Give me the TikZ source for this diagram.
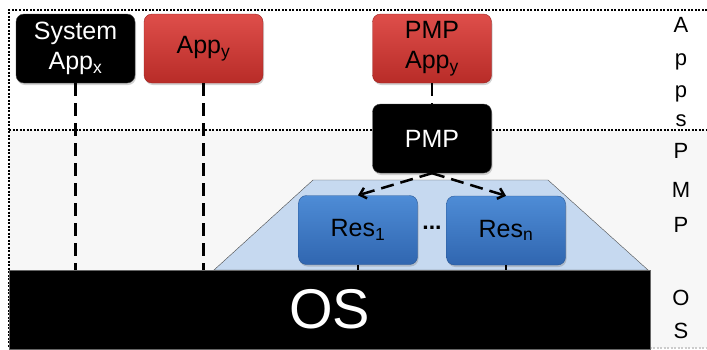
\documentclass[tikz,border=0pt]{standalone}
\usepackage{fontspec}
\setmainfont{Liberation Sans}
\usetikzlibrary{arrows.meta,shadows}

\definecolor{apptop}{RGB}{222,78,74}
\definecolor{appbot}{RGB}{184,44,40}
\definecolor{restop}{RGB}{78,140,214}
\definecolor{resbot}{RGB}{48,102,176}
\definecolor{resbg}{RGB}{198,217,240}
\definecolor{bggray}{RGB}{247,247,247}

\newcommand*{\xleft}{9}
\newcommand*{\xright}{707}
\newcommand*{\ytop}{10}
\newcommand*{\ysep}{130}
\newcommand*{\ybot}{348}

\begin{document}
\begin{tikzpicture}
[
	x=1pt, y=-1pt,
	box/.style={rounded corners=8pt,minimum width=119pt,minimum height=69pt,inner sep=0pt,align=center,
		font=\fontsize{25}{30}\selectfont,drop shadow={opacity=0.35,shadow xshift=1pt,shadow yshift=-2pt}},
	blackbox/.style={box,fill=black,draw=black!75},
	redbox/.style={box,top color=apptop,bottom color=appbot,draw=appbot!85!black},
	resbox/.style={box,top color=restop,bottom color=resbot,draw=resbot!85!black},
	frame/.style={line width=2pt,dash pattern=on 2pt off 1.5pt},
	link/.style={line width=2.5pt,dash pattern=on 13pt off 7pt},
	sidelbl/.style={anchor=base,inner sep=0pt,font=\fontsize{22}{22}\selectfont}
]

	\useasboundingbox (0,0) rectangle (707,349);

	% layers
	\fill[bggray] (\xleft,\ysep) rectangle (\xright,\ybot);
	\draw[frame] (\xright,\ytop) -- (\xleft,\ytop) -- (\xleft,\ybot);
	\draw[frame] (\xleft,\ysep) -- (\xright,\ysep);
	\draw[frame,black!20] (\xleft,\ybot) -- (\xright,\ybot);

	% pmp area
	\draw[black!70,fill=resbg] (214,270) -- (313,180) -- (548,180) -- (648,270) -- cycle;

	% boxes
	\node[blackbox,text=white] (sysapp) at (75.5,48.5) {System\\App\textsubscript{x}};
	\node[redbox] (appy) at (203.5,48.5) {App\textsubscript{y}};
	\node[redbox] (pmpapp) at (432,48.5) {PMP\\App\textsubscript{y}};
	\node[blackbox,text=white] (pmp) at (432,138.5) {PMP};
	\node[resbox] (res1) at (358,230) {Res\textsubscript{1}};
	\node[resbox] (resn) at (506,230.5) {Res\textsubscript{n}};
	\node[font=\fontsize{23}{23}\selectfont\bfseries] (dots) at (432,228) {...};
	\node[fill=black,draw=black!60,line width=1pt,minimum width=641pt,minimum height=79pt,inner sep=0pt,
		text=white,font=\fontsize{56}{56}\selectfont] (os) at (329.5,309.5) {OS};

	% links
	\draw[link] (sysapp.south) -- (sysapp.south |- os.north);
	\draw[link] (appy.south) -- (appy.south |- os.north);
	\draw[link] (pmpapp.south) -- (pmp.north);
	\draw[link,-{Straight Barb[length=6pt,width=11pt]}] (pmp.south) -- (res1.north);
	\draw[link,-{Straight Barb[length=6pt,width=11pt]}] (pmp.south) -- (resn.north);
	\draw[line width=2.5pt] (res1.south) -- (res1.south |- os.north);
	\draw[line width=2.5pt] (resn.south) -- (resn.south |- os.north);

	% layer names
	\foreach \ch/\yb [count=\i] in {A/32,p/65,p/97,s/126,P/158,M/197,P/232,O/305,S/338}
		\node[sidelbl] (side\i) at (681,\yb) {\ch};

\end{tikzpicture}
\end{document}
